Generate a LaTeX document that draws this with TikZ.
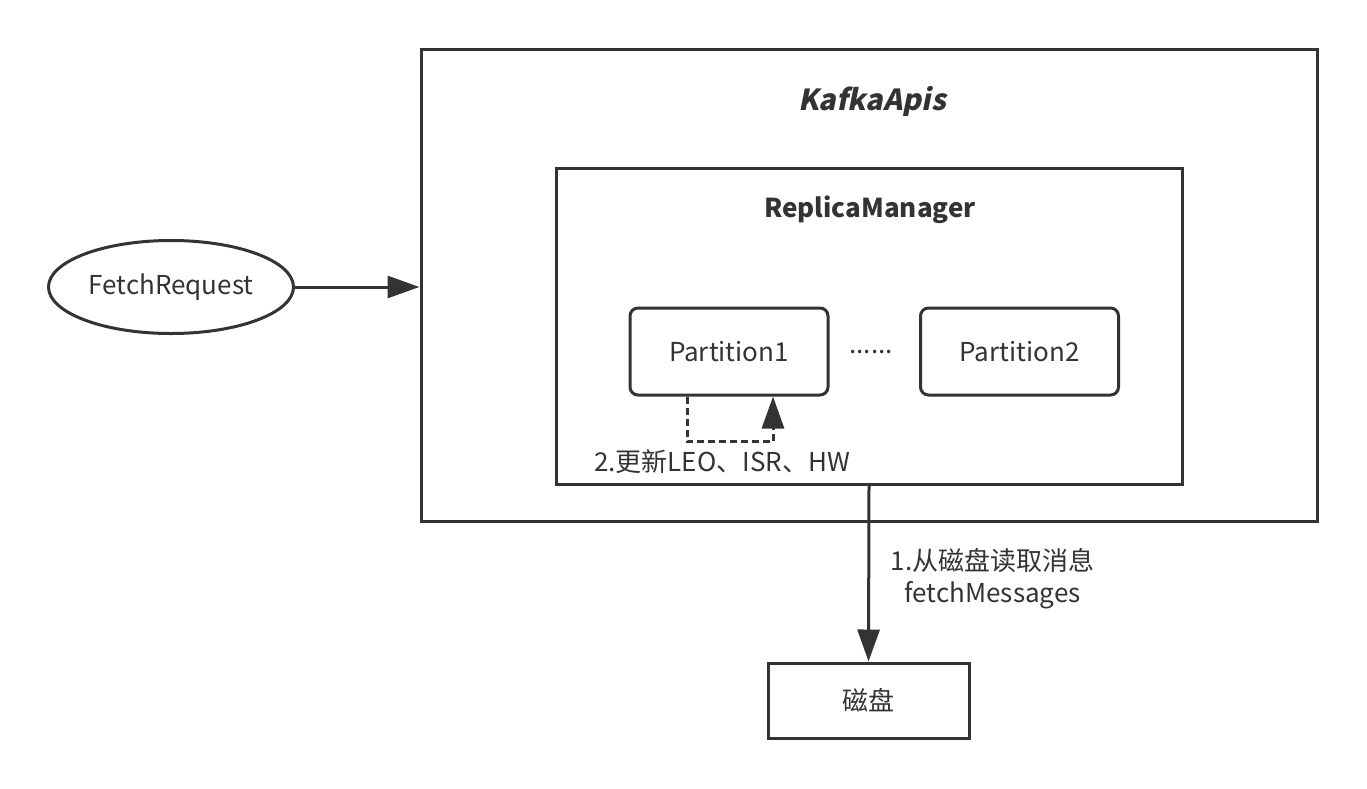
\documentclass[tikz,border=0pt]{standalone}
\usepackage{fontspec}
\setmainfont{Noto Sans CJK SC}
\newfontfamily\slantfont{Noto Sans CJK SC}[FakeSlant=0.2,BoldFeatures={FakeSlant=0.2}]
\usetikzlibrary{arrows.meta,shapes.geometric}
\definecolor{ink}{HTML}{333333}
\tikzset{
  box/.style={draw=ink,line width=3pt,inner sep=0pt},
  partbox/.style={box,rounded corners=8pt,minimum width=198pt,minimum height=87pt},
  lbl/.style={text=ink,font=\fontsize{26}{32}\selectfont},
  tip/.style={-{Triangle[length=32pt,width=22pt]}},
  dotline/.style={dash pattern=on 7pt off 4pt}
}
\begin{document}
\begin{tikzpicture}[x=1pt,y=-1pt,ink,line width=3pt]
\useasboundingbox (0,0) rectangle (1367,788);
\node[box,minimum width=896pt,minimum height=472pt] (apis) at (869,285) {};
\node[box,minimum width=626pt,minimum height=316pt] (rm) at (869,326) {};
\node[lbl,font=\fontsize{29}{34}\slantfont\bfseries] (apist) at (872,101) {KafkaApis};
\node[lbl,font=\fontsize{26}{32}\selectfont\bfseries] (rmt) at (870,210) {ReplicaManager};
\node[box,ellipse,minimum width=245pt,minimum height=93pt,lbl] (req) at (171,287) {FetchRequest};
\node[partbox,lbl] (p1) at (729,351.5) {Partition1};
\node[lbl] (dots) at (871,352) {......};
\node[partbox,lbl] (p2) at (1019.5,351.5) {Partition2};
\node[box,minimum width=201pt,minimum height=75pt,lbl] (disk) at (868.5,700.5) {磁盘};

\draw[tip] (req.east) -- (req.east -| apis.west);
\draw[tip,dotline] ([xshift=-42pt]p1.south) -- ++(0,45) -| ([xshift=44pt]p1.south);
\node[lbl] (upd) at (722,462) {2.更新LEO、ISR、HW};
\draw[tip] (rm.south) -- (disk.north);
\node[lbl,anchor=west,align=center] (fetch) at (886,579) {1.从磁盘读取消息\\fetchMessages};
\end{tikzpicture}
\end{document}
